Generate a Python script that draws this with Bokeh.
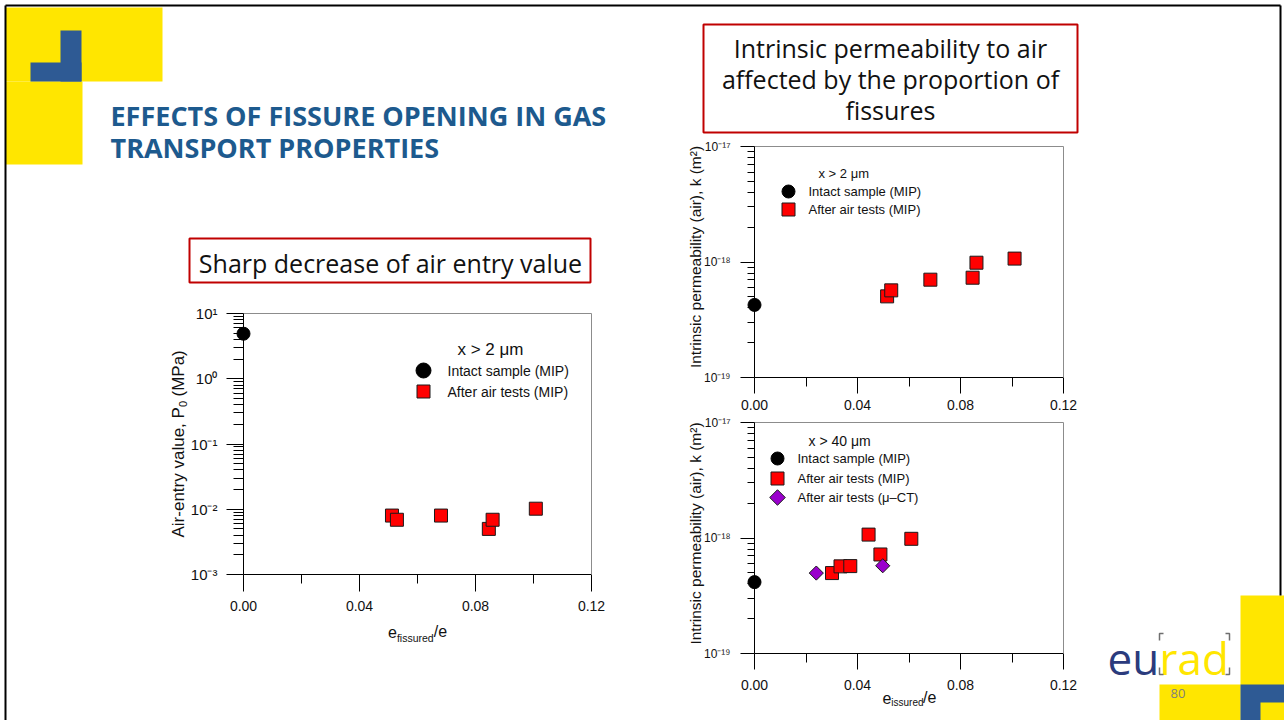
import math
from bokeh.plotting import figure
from bokeh.models import (Range1d, FixedTicker, NumeralTickFormatter, BasicTickFormatter,
                          LinearAxis, LogScale)
from bokeh.core.properties import value
from bokeh.embed import file_html
from bokeh.resources import INLINE

# ---------------- data ----------------
# left chart: air-entry value P0 (MPa) vs e_fissured/e, x > 2 um
left_intact_x = [0.0]
left_intact_p0 = [4.9]
left_air_x = [0.0512, 0.0529, 0.0681, 0.0846, 0.0859, 0.1008]
left_air_p0 = [0.0080, 0.0069, 0.0080, 0.0050, 0.0069, 0.0102]

# top-right chart: intrinsic permeability k (m2), x > 2 um
top_intact_x = [0.0]
top_intact_k = [4.25e-19]
top_air_x = [0.0515, 0.0531, 0.0683, 0.0847, 0.0862, 0.1010]
top_air_k = [5.04e-19, 5.68e-19, 7.03e-19, 7.31e-19, 9.86e-19, 1.07e-18]

# bottom-right chart: intrinsic permeability k (m2), x > 40 um
bot_intact_x = [0.0]
bot_intact_k = [4.15e-19]
bot_mip_x = [0.0301, 0.0334, 0.0372, 0.0443, 0.0489, 0.0609]
bot_mip_k = [4.97e-19, 5.68e-19, 5.71e-19, 1.07e-18, 7.20e-19, 9.84e-19]
bot_ct_x = [0.0240, 0.0498]
bot_ct_k = [4.97e-19, 5.75e-19]

# ticks and tick labels
x_ticks = [0.0, 0.04, 0.08, 0.12]
x_minor_ticks = [0.02, 0.06, 0.10]
p0_ticks = [1e-3, 1e-2, 1e-1, 1e0, 1e1]
p0_tick_labels = ["10\u207b\u00b3", "10\u207b\u00b2", "10\u207b\u00b9", "10\u2070", "10\u00b9"]
k_ticks = [1e-19, 1e-18, 1e-17]
k_tick_labels = ["10\u207b\u00b9\u2079", "10\u207b\u00b9\u2078", "10\u207b\u00b9\u2077"]

# legend texts
legend_labels = ["Intact sample (MIP)", "After air tests (MIP)", "After air tests (\u03bc\u2013CT)"]

# ---------------- page geometry (pixels of the slide) ----------------
W, H = 1284, 720


def X(v):
    return v


def Y(v):
    return H - v


PF = "Liberation Sans"
SF = "Open Sans"
RED = "#FF0000"
PURPLE = "#9A00CD"
INK = "#111111"
ABS = {"position": "absolute", "left": "0px", "top": "0px"}


def log_minor(majors):
    return [m * t for t in majors[:-1] for m in range(2, 10)]


def make_axes(ax_left, ax_right, ax_top, ax_bottom, y_lo, y_hi, y_major, y_labels,
              ytick_size, xtick_size, y_out, y_minor_out, x_out, x_minor_out,
              x_standoff, y_standoff):
    p = figure(width=W, height=H,
               x_range=Range1d(x_ticks[0], x_ticks[-1]),
               y_range=Range1d(y_lo, y_hi), y_axis_type="log",
               output_backend="svg", toolbar_location=None,
               min_border_left=ax_left, min_border_right=W - ax_right,
               min_border_top=ax_top, min_border_bottom=H - ax_bottom)
    p.background_fill_color = None
    p.border_fill_color = None
    p.outline_line_color = None
    p.grid.visible = False

    xa = p.xaxis[0]
    xa.ticker = FixedTicker(ticks=x_ticks, minor_ticks=x_minor_ticks)
    xa.formatter = NumeralTickFormatter(format="0.00")
    xa.major_tick_out = x_out
    xa.major_tick_in = 0
    xa.minor_tick_out = x_minor_out
    xa.minor_tick_in = 0
    xa.axis_line_color = "black"
    xa.major_tick_line_color = "black"
    xa.minor_tick_line_color = "black"
    xa.major_label_text_font = PF
    xa.major_label_text_font_size = xtick_size
    xa.major_label_text_color = INK
    xa.major_label_standoff = x_standoff

    ya = p.yaxis[0]
    ya.ticker = FixedTicker(ticks=y_major, minor_ticks=log_minor(y_major))
    ya.formatter = BasicTickFormatter()
    ya.major_label_overrides = dict(zip(y_major, y_labels))
    ya.major_tick_out = y_out
    ya.major_tick_in = 0
    ya.minor_tick_out = y_minor_out
    ya.minor_tick_in = 0
    ya.axis_line_color = "black"
    ya.major_tick_line_color = "black"
    ya.minor_tick_line_color = "black"
    ya.major_label_text_font = PF
    ya.major_label_text_font_size = ytick_size
    ya.major_label_text_color = INK
    ya.major_label_standoff = y_standoff

    for side in ("above", "right"):
        a = LinearAxis(ticker=FixedTicker(ticks=[]), axis_line_color="#8c8c8c",
                       major_tick_out=0, major_tick_in=0, minor_tick_out=0,
                       minor_tick_in=0, major_label_text_font_size="0px")
        p.add_layout(a, side)
    p.styles = ABS
    return p


def make_marks_layer(ax_left, ax_right, ax_top, ax_bottom, y_lo, y_hi):
    # same scales as the axes figure, but with a frame 10 px wider on each side,
    # so markers sitting on the y axis (x = 0) are not clipped
    pad_px = 10
    span = x_ticks[-1] - x_ticks[0]
    pad = pad_px * span / (ax_right - ax_left)
    q = figure(width=W, height=H,
               x_range=Range1d(x_ticks[0] - pad, x_ticks[-1] + pad),
               y_range=Range1d(y_lo, y_hi),
               output_backend="svg", toolbar_location=None,
               x_axis_type=None, y_axis_type=None,
               min_border_left=ax_left - pad_px, min_border_right=W - ax_right - pad_px,
               min_border_top=ax_top, min_border_bottom=H - ax_bottom)
    q.y_scale = LogScale()
    q.background_fill_color = None
    q.border_fill_color = None
    q.outline_line_color = None
    q.grid.visible = False
    q.styles = ABS
    return q


# ---------------- left chart ----------------
L = (243, 591, 313, 574, 1e-3, 1e1)
p_left = make_axes(*L, p0_ticks, p0_tick_labels, "15px", "14px", 17, 10, 17, 9, 9, 9)
m_left = make_marks_layer(*L)
m_left.scatter(left_intact_x, left_intact_p0, marker="circle", size=13,
               fill_color="black", line_color="black")
m_left.scatter(left_air_x, left_air_p0, marker="square", size=13,
               fill_color=RED, line_color="#1a1a1a", line_width=1)

# ---------------- top-right chart ----------------
T = (754, 1063, 146, 377, 1e-19, 1e-17)
p_top = make_axes(*T, k_ticks, k_tick_labels, "12px", "14px", 14, 7, 16, 9, 6, 10)
m_top = make_marks_layer(*T)
m_top.scatter(top_intact_x, top_intact_k, marker="circle", size=13,
              fill_color="black", line_color="black")
m_top.scatter(top_air_x, top_air_k, marker="square", size=13,
              fill_color=RED, line_color="#1a1a1a", line_width=1)

# ---------------- bottom-right chart ----------------
B = (754, 1063, 422, 653, 1e-19, 1e-17)
p_bot = make_axes(*B, k_ticks, k_tick_labels, "12px", "14px", 14, 7, 16, 9, 10, 10)
m_bot = make_marks_layer(*B)
m_bot.scatter(bot_intact_x, bot_intact_k, marker="circle", size=13,
              fill_color="black", line_color="black")
m_bot.scatter(bot_mip_x, bot_mip_k, marker="square", size=13,
              fill_color=RED, line_color="#1a1a1a", line_width=1)
m_bot.scatter(bot_ct_x, bot_ct_k, marker="square", angle=math.pi / 4, size=10,
              fill_color=PURPLE, line_color="#1a1a1a", line_width=1)

# ---------------- slide background (pixel space) ----------------
bg = figure(width=W, height=H, x_range=Range1d(0, W), y_range=Range1d(0, H),
            output_backend="svg", toolbar_location=None,
            x_axis_type=None, y_axis_type=None, min_border=0)
bg.outline_line_color = None
bg.background_fill_color = "white"
bg.border_fill_color = "white"
bg.grid.visible = False
bg.styles = ABS

YEL = "#FFE600"
BLUE = "#2E5A94"
# top-left decoration
bg.quad(left=[X(5), X(5)], right=[X(162), X(82)], top=[Y(7), Y(81)], bottom=[Y(81), Y(164)],
        fill_color=YEL, line_color=None)
bg.quad(left=[X(60), X(30)], right=[X(81), X(81)], top=[Y(30), Y(62)], bottom=[Y(81), Y(81)],
        fill_color=BLUE, line_color=None)
# bottom-right decoration
bg.quad(left=[X(1240), X(1159)], right=[X(1284), X(1240)], top=[Y(595), Y(684)],
        bottom=[Y(720), Y(720)], fill_color=YEL, line_color=None)
bg.quad(left=[X(1240)], right=[X(1284)], top=[Y(684)], bottom=[Y(720)],
        fill_color=BLUE, line_color=None)
bg.quad(left=[X(1260)], right=[X(1284)], top=[Y(702)], bottom=[Y(720)],
        fill_color=YEL, line_color=None)
# slide frame
bg.multi_line(xs=[[X(5), X(5)], [X(5), X(1280)], [X(1280), X(1280)]],
              ys=[[Y(720), Y(5)], [Y(5), Y(5)], [Y(5), Y(595)]],
              line_color="black", line_width=2)

# title
bg.text(x=[X(110), X(110)], y=[Y(115), Y(147)],
        text=["EFFECTS OF FISSURE OPENING IN GAS", "TRANSPORT PROPERTIES"],
        text_font=value(SF), text_font_style="bold", text_font_size="27px",
        text_color="#1D5A8E", text_baseline="middle", text_align="left")

# red boxes
bg.quad(left=[X(189), X(703)], right=[X(590), X(1077)], top=[Y(238), Y(24)],
        bottom=[Y(282), Y(132)], fill_color=None, line_color="#C00000", line_width=2)
bg.text(x=[X(390)], y=[Y(262)], text=["Sharp decrease of air entry value"],
        text_font=value(SF), text_font_size="25px", text_color=INK,
        text_align="center", text_baseline="middle")
bg.text(x=[X(890)] * 3, y=[Y(47), Y(78), Y(109)],
        text=["Intrinsic permeability to air", "affected by the proportion of", "fissures"],
        text_font=value(SF), text_font_size="25px", text_color=INK,
        text_align="center", text_baseline="middle")

# logo and page number
bg.text(x=[X(1107)], y=[Y(657)], text=["eu"], text_font=value(SF), text_font_size="44px",
        text_color="#2B3B7D", text_baseline="middle")
bg.text(x=[X(1159)], y=[Y(657)], text=["rad"], text_font=value(SF), text_font_size="44px",
        text_color=YEL, text_baseline="middle")
bg.multi_line(xs=[[X(1163), X(1159), X(1159)], [X(1159), X(1159), X(1163)],
                  [X(1225), X(1229), X(1229)], [X(1229), X(1229), X(1225)]],
              ys=[[Y(633), Y(633), Y(640)], [Y(667), Y(674), Y(674)],
                  [Y(633), Y(633), Y(640)], [Y(667), Y(674), Y(674)]],
              line_color="#6f6f6f", line_width=1.5)
bg.text(x=[X(1170)], y=[Y(693)], text=["80"], text_font=value(SF), text_font_size="13px",
        text_color="#7F7F7F", text_baseline="middle")

# axis titles (drawn as text pieces because of sub/superscripts)
bg.text(x=[X(178)], y=[Y(537)], text=["Air-entry value, P"], angle=math.pi / 2,
        text_font=value(PF), text_font_size="17px", text_color=INK,
        text_align="left", text_baseline="middle")
bg.text(x=[X(182)], y=[Y(406.6)], text=["0"], angle=math.pi / 2,
        text_font=value(PF), text_font_size="11px", text_color=INK,
        text_align="left", text_baseline="middle")
bg.text(x=[X(178)], y=[Y(396)], text=["(MPa)"], angle=math.pi / 2,
        text_font=value(PF), text_font_size="17px", text_color=INK,
        text_align="left", text_baseline="middle")

bg.text(x=[X(387.5), X(433.2)], y=[Y(631), Y(631)], text=["e", "/e"],
        text_font=value(PF), text_font_size="16px", text_color=INK,
        text_baseline="middle")
bg.text(x=[X(396.4)], y=[Y(637)], text=["fissured"],
        text_font=value(PF), text_font_size="10.5px", text_color=INK,
        text_baseline="middle")

bg.text(x=[X(695), X(695)], y=[Y(256.5), Y(533)],
        text=["Intrinsic permeability (air), k (m\u00b2)"] * 2, angle=math.pi / 2,
        text_font=value(PF), text_font_size="15.5px", text_color=INK,
        text_align="center", text_baseline="middle")

bg.text(x=[X(882), X(922.5)], y=[Y(697), Y(697)], text=["e", "/e"],
        text_font=value(PF), text_font_size="16px", text_color=INK,
        text_baseline="middle")
bg.text(x=[X(890.8)], y=[Y(702)], text=["issured"],
        text_font=value(PF), text_font_size="10px", text_color=INK,
        text_baseline="middle")

# legends (keys + texts)
bg.text(x=[X(457)], y=[Y(349)], text=["x > 2 \u03bcm"], text_font=value(PF),
        text_font_size="17px", text_color=INK, text_baseline="middle")
bg.scatter(x=[X(423)], y=[Y(370)], marker="circle", size=15, fill_color="black",
           line_color="black")
bg.scatter(x=[X(423)], y=[Y(391)], marker="square", size=13, fill_color=RED,
           line_color="#1a1a1a")
bg.text(x=[X(447), X(447)], y=[Y(370), Y(391)], text=legend_labels[:2], text_font=value(PF),
        text_font_size="14px", text_color=INK, text_baseline="middle")

bg.text(x=[X(818)], y=[Y(173)], text=["x > 2 \u03bcm"], text_font=value(PF),
        text_font_size="13px", text_color=INK, text_baseline="middle")
bg.scatter(x=[X(788)], y=[Y(191)], marker="circle", size=13, fill_color="black",
           line_color="black")
bg.scatter(x=[X(788)], y=[Y(209)], marker="square", size=13, fill_color=RED,
           line_color="#1a1a1a")
bg.text(x=[X(808), X(808)], y=[Y(191), Y(209)], text=legend_labels[:2], text_font=value(PF),
        text_font_size="13px", text_color=INK, text_baseline="middle")

bg.text(x=[X(808)], y=[Y(440)], text=["x > 40 \u03bcm"], text_font=value(PF),
        text_font_size="14px", text_color=INK, text_baseline="middle")
bg.scatter(x=[X(777)], y=[Y(458)], marker="circle", size=13, fill_color="black",
           line_color="black")
bg.scatter(x=[X(777)], y=[Y(478)], marker="square", size=13, fill_color=RED,
           line_color="#1a1a1a")
bg.scatter(x=[X(777)], y=[Y(497)], marker="square", angle=math.pi / 4, size=11,
           fill_color=PURPLE, line_color="#1a1a1a")
bg.text(x=[X(797)] * 3, y=[Y(458), Y(478), Y(497)], text=legend_labels, text_font=value(PF),
        text_font_size="13px", text_color=INK, text_baseline="middle")

with open("out.html", "w") as f:
    f.write(file_html([bg, p_left, p_top, p_bot, m_left, m_top, m_bot], INLINE))
